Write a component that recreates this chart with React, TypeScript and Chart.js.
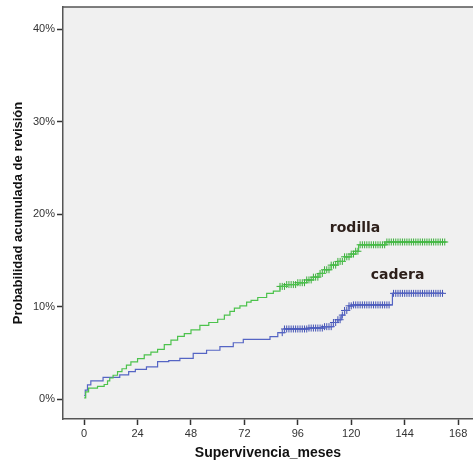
import React, { useEffect, useRef } from "react";
import { Chart, registerables } from "chart.js";
Chart.register(...registerables);

const xTicks = [0, 24, 48, 72, 96, 120, 144, 168];
const yTicks = [0, 10, 20, 30, 40];
const seriesNames = ["rodilla", "cadera"];

const rodillaMonths = [0, 0.7, 2, 6, 9, 10.5, 11.5, 13, 15, 17, 19, 21, 24, 27, 30, 33, 36, 39, 42, 45, 48, 52, 56, 60, 63, 65.5, 67.5, 70, 73, 75, 78, 82, 85, 88, 91, 96, 100, 103, 105.5, 108, 111, 114, 117, 120, 122, 123.3, 135.5, 163];
const rodillaPct = [0.15, 0.8, 1.2, 1.4, 1.6, 2.0, 2.3, 2.6, 3.0, 3.3, 3.7, 4.05, 4.4, 4.8, 5.1, 5.4, 5.9, 6.4, 6.8, 7.1, 7.5, 8.0, 8.3, 8.65, 9.1, 9.5, 9.85, 10.1, 10.5, 10.7, 11.0, 11.45, 11.7, 12.2, 12.4, 12.6, 12.9, 13.2, 13.6, 14.0, 14.5, 14.9, 15.4, 15.7, 16.0, 16.7, 17.0, 17.0];

const caderaMonths = [0, 0.5, 1.5, 3, 8.5, 16, 20, 23, 28, 33, 38, 43, 49, 55, 61, 67, 71.5, 83.5, 87, 90, 101, 108, 112, 114, 115.5, 117, 119, 121, 138.5, 161.7];
const caderaPct = [0.4, 1.0, 1.55, 2.0, 2.37, 2.63, 2.98, 3.24, 3.5, 4.07, 4.18, 4.43, 4.97, 5.3, 5.7, 6.11, 6.48, 6.77, 7.2, 7.6, 7.7, 7.85, 8.3, 8.6, 9.1, 9.6, 10.1, 10.2, 11.45, 11.45];

const rodillaCensored = [88, 89, 90, 91, 92, 93, 94, 95, 96, 97, 98, 99, 100, 101, 102, 103, 104, 105, 106, 107, 108, 109, 110, 111, 112, 113, 114, 115, 116, 117, 118, 119, 120, 121, 122, 123, 124, 125, 126, 127, 128, 129, 130, 131, 132, 133, 134, 135, 136, 137, 138, 139, 140, 141, 142, 143, 144, 145, 146, 147, 148, 149, 150, 151, 152, 153, 154, 155, 156, 157, 158, 159, 160, 161, 162];
const caderaCensored = [89, 90, 91, 92, 93, 94, 95, 96, 97, 98, 99, 100, 101, 102, 103, 104, 105, 106, 107, 108, 109, 110, 111, 112, 113, 114, 115, 116, 117, 118, 119, 120, 121, 122, 123, 124, 125, 126, 127, 128, 129, 130, 131, 132, 133, 134, 135, 136, 137, 139, 140, 141, 142, 143, 144, 145, 146, 147, 148, 149, 150, 151, 152, 153, 154, 155, 156, 157, 158, 159, 160, 161];

const GREEN = "#4cc24c";
const GREEN_MARK = "#3aae3a";
const BLUE = "#5565c4";
const BLUE_MARK = "#4252b4";

function stepAt(months: number[], pct: number[], m: number) {
  let v = pct[0];
  for (let i = 0; i < months.length; i++) if (months[i] <= m) v = pct[i];
  return v;
}

const App = () => {
  const ref = useRef<HTMLCanvasElement | null>(null);
  useEffect(() => {
    if (!ref.current) return;
    const decor = {
      id: "decor",
      afterLayout(chart: any) {
        const a = chart.chartArea;
        const W = chart.width;
        a.right = W;
        a.width = a.right - a.left;
        const x = chart.scales.x;
        x.right = W;
        x.width = x.right - x.left;
        x.configure();
      },
      beforeDraw(chart: any) {
        const { ctx, chartArea: a } = chart;
        ctx.save();
        ctx.fillStyle = "#f0f0f0";
        ctx.fillRect(a.left, a.top, a.right - a.left, a.bottom - a.top);
        ctx.restore();
      },
      afterDraw(chart: any) {
        const { ctx, chartArea: a, scales } = chart;
        ctx.save();
        ctx.strokeStyle = "#555";
        ctx.lineWidth = 1.5;
        ctx.beginPath();
        ctx.moveTo(a.left, a.top);
        ctx.lineTo(a.right, a.top);
        ctx.stroke();
        ctx.fillStyle = "#111";
        ctx.font = "bold 14px 'Liberation Sans', Arial, sans-serif";
        ctx.textAlign = "center";
        ctx.textBaseline = "middle";
        ctx.fillText("Supervivencia_meses", (a.left + a.right) / 2, 453);
        ctx.translate(18, (a.top + a.bottom) / 2);
        ctx.rotate(-Math.PI / 2);
        ctx.font = "bold 13px 'Liberation Sans', Arial, sans-serif";
        ctx.fillText("Probabilidad acumulada de revisión", 0, 0);
        ctx.restore();
        ctx.save();
        ctx.fillStyle = "#2d1f1a";
        ctx.font = "bold 14px 'DejaVu Sans', sans-serif";
        ctx.textAlign = "center";
        ctx.textBaseline = "middle";
        ctx.fillText(seriesNames[0], scales.x.getPixelForValue(121.7), scales.y.getPixelForValue(18.5));
        ctx.fillText(seriesNames[1], scales.x.getPixelForValue(140.8), scales.y.getPixelForValue(13.4));
        ctx.restore();
      },
    };
    const chart = new Chart(ref.current, {
      type: "line",
      data: {
        datasets: [
          {
            label: seriesNames[0],
            data: rodillaMonths.map((m, i) => ({ x: m, y: rodillaPct[i] })),
            borderColor: GREEN,
            borderWidth: 1.2,
            stepped: "before",
            pointRadius: 0,
            fill: false,
          },
          {
            label: seriesNames[1],
            data: caderaMonths.map((m, i) => ({ x: m, y: caderaPct[i] })),
            borderColor: BLUE,
            borderWidth: 1.2,
            stepped: "before",
            pointRadius: 0,
            fill: false,
          },
          {
            type: "scatter",
            label: seriesNames[0] + " censurado",
            data: rodillaCensored.map((m) => ({ x: m, y: stepAt(rodillaMonths, rodillaPct, m) })),
            pointStyle: "cross",
            pointRadius: 3.5,
            borderColor: GREEN_MARK,
            backgroundColor: GREEN_MARK,
            pointBorderWidth: 1,
            showLine: false,
          } as any,
          {
            type: "scatter",
            label: seriesNames[1] + " censurado",
            data: caderaCensored.map((m) => ({ x: m, y: stepAt(caderaMonths, caderaPct, m) })),
            pointStyle: "cross",
            pointRadius: 3.5,
            borderColor: BLUE_MARK,
            backgroundColor: BLUE_MARK,
            pointBorderWidth: 1,
            showLine: false,
          } as any,
        ],
      },
      options: {
        animation: false,
        responsive: false,
        layout: { padding: { top: 7, right: 0, left: 0, bottom: 0 } },
        plugins: { legend: { display: false }, tooltip: { enabled: false } },
        scales: {
          x: {
            type: "linear",
            min: -9.5,
            max: 174.7,
            afterBuildTicks: (s: any) => {
              s.ticks = xTicks.map((v) => ({ value: v }));
            },
            afterFit: (s: any) => {
              s.height = 44;
              s.paddingRight = 0;
              s.paddingLeft = 0;
            },
            grid: { drawOnChartArea: false, color: "#333", tickLength: 6, tickWidth: 1.5 },
            border: { color: "#555", width: 1.5 },
            ticks: {
              color: "#333",
              padding: 2,
              maxRotation: 0,
              font: { family: "'Liberation Sans', Arial, sans-serif", size: 11 },
              callback: (v: any) => String(v),
            },
          },
          y: {
            type: "linear",
            min: -2.13,
            max: 42.4,
            afterBuildTicks: (s: any) => {
              s.ticks = yTicks.map((v) => ({ value: v }));
            },
            afterFit: (s: any) => {
              s.width = 63;
              s.paddingTop = 0;
              s.paddingBottom = 0;
            },
            grid: { drawOnChartArea: false, color: "#333", tickLength: 6, tickWidth: 1.5 },
            border: { color: "#555", width: 1.5 },
            ticks: {
              color: "#333",
              padding: 2,
              font: { family: "'Liberation Sans', Arial, sans-serif", size: 11 },
              callback: (v: any) => v + "%",
            },
          },
        },
      },
      plugins: [decor],
    } as any);
    return () => chart.destroy();
  }, []);
  return (
    <div style={{ position: "fixed", left: 0, top: 0, width: 473, height: 463, background: "#fff" }}>
      <canvas ref={ref} width={473} height={463} style={{ display: "block" }} />
    </div>
  );
};

export default App;
